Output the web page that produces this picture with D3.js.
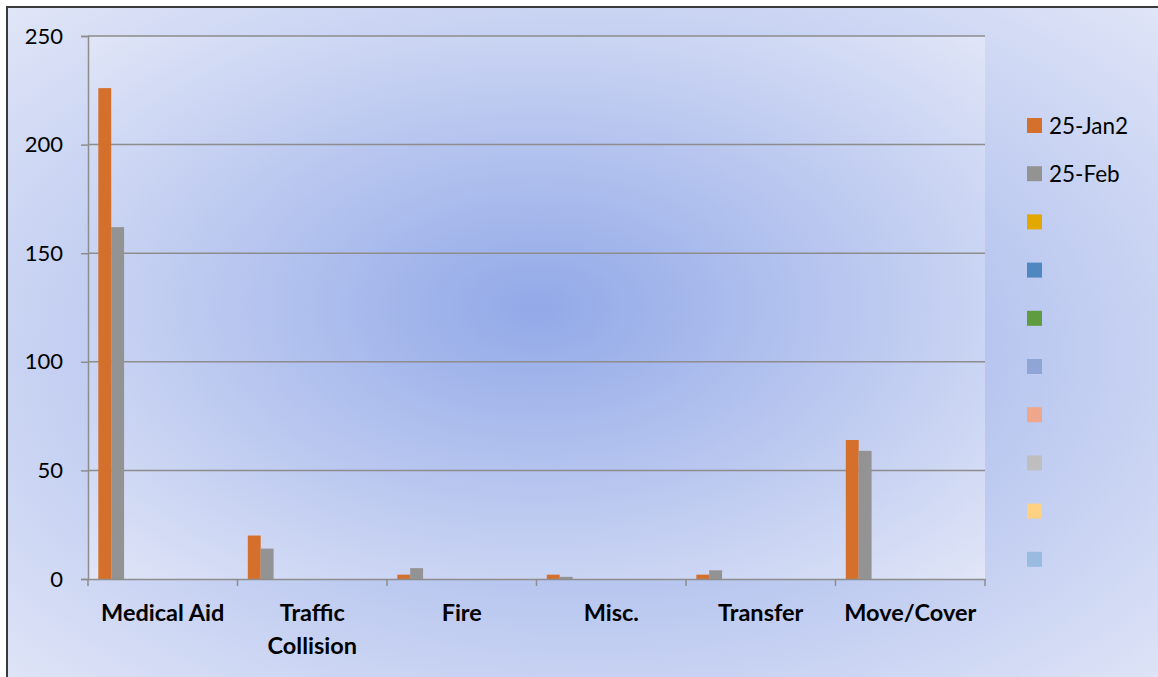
<!DOCTYPE html>
<html>
<head>
<meta charset="utf-8">
<script src="https://cdn.jsdelivr.net/npm/d3@7"></script>
<style>
  html, body { margin: 0; padding: 0; background: #ffffff; }
  svg { display: block; }
  text { font-family: Lato, "Open Sans", sans-serif; fill: #000; }
</style>
</head>
<body>
<svg id="chart" width="1158" height="677"></svg>
<script>
// ---- data ----
const categories = ["Medical Aid", "Traffic Collision", "Fire", "Misc.", "Transfer", "Move/Cover"];
const seriesNames = ["25-Jan2", "25-Feb", "", "", "", "", "", "", "", ""];
const seriesColors = ["#d4702c", "#939393", "#e2a800", "#4f88c0", "#5f9b3f", "#8fa5d6", "#efa78c", "#bebebe", "#ffd183", "#99bbe0"];
const jan2Values = [226, 20, 2, 2, 2, 64];
const febValues = [162, 14, 5, 1, 4, 59];
const emptyValues = [];
const yTicks = [0, 50, 100, 150, 200, 250];

const seriesValues = [jan2Values, febValues, emptyValues, emptyValues, emptyValues,
                      emptyValues, emptyValues, emptyValues, emptyValues, emptyValues];

// ---- layout ----
const W = 1158, H = 677;
const plot = { left: 88, right: 985, top: 36, bottom: 579 };

const svg = d3.select("#chart");
const defs = svg.append("defs");

function radial(id, r) {
  const g = defs.append("radialGradient").attr("id", id)
    .attr("cx", "50%").attr("cy", "50%").attr("r", r);
  g.append("stop").attr("offset", "0%").attr("stop-color", "#92a9e8");
  g.append("stop").attr("offset", "100%").attr("stop-color", "#e0e5f7");
}
radial("chartBg", "70%");
radial("plotBg", "70%");

// chart area background with frame
svg.append("rect").attr("x", 7).attr("y", 7).attr("width", W + 10).attr("height", H + 10)
  .attr("fill", "url(#chartBg)").attr("stroke", "#3a3a3a").attr("stroke-width", 2);

// plot area background
svg.append("rect").attr("x", plot.left).attr("y", plot.top)
  .attr("width", plot.right - plot.left).attr("height", plot.bottom - plot.top)
  .attr("fill", "url(#plotBg)");

// ---- scales ----
const x = d3.scaleBand().domain(categories).range([plot.left, plot.right]).padding(0);
const xs = d3.scaleBand().domain(d3.range(seriesNames.length))
  .range([0, x.bandwidth()]).paddingInner(0).paddingOuter(0.8);
const y = d3.scaleLinear().domain([0, 250]).range([plot.bottom, plot.top]);

const axisColor = "#8d8d8d";

// gridlines
svg.append("g").selectAll("line").data(yTicks.filter(d => d > 0)).join("line")
  .attr("x1", plot.left).attr("x2", plot.right)
  .attr("y1", d => y(d)).attr("y2", d => y(d))
  .attr("stroke", axisColor).attr("stroke-width", 1.5);

// bars
const barG = svg.append("g");
seriesValues.forEach((vals, si) => {
  barG.append("g").selectAll("rect").data(vals.map((v, i) => ({ v, c: categories[i] }))).join("rect")
    .attr("x", d => x(d.c) + xs(si))
    .attr("y", d => y(d.v))
    .attr("width", xs.bandwidth())
    .attr("height", d => y(0) - y(d.v))
    .attr("fill", seriesColors[si]);
});

// y axis
const yAxis = d3.axisLeft(y).tickValues(yTicks).tickSize(7).tickPadding(18).tickFormat(d3.format("d"));
const yg = svg.append("g").attr("transform", `translate(${plot.left},0)`).call(yAxis);
yg.select(".domain").attr("stroke", axisColor).attr("stroke-width", 1.5);
yg.selectAll(".tick line").attr("stroke", axisColor).attr("stroke-width", 1.5);
yg.selectAll(".tick text").attr("font-size", 22).attr("font-family", "Lato, sans-serif").attr("fill", "#000");

// x axis (line + boundary ticks)
const xg = svg.append("g").attr("transform", `translate(0,${plot.bottom})`)
  .call(d3.axisBottom(x).tickSize(0).tickFormat(""));
xg.select(".domain").attr("stroke", axisColor).attr("stroke-width", 1.5);
xg.selectAll(".tick").remove();
const bounds = categories.map(c => x(c)).concat([plot.right]);
xg.selectAll("line.bnd").data(bounds).join("line").attr("class", "bnd")
  .attr("x1", d => d).attr("x2", d => d).attr("y1", 0).attr("y2", 7)
  .attr("stroke", axisColor).attr("stroke-width", 1.5);

// category labels (wrapped like the original)
const labelLines = { "Traffic Collision": ["Traffic", "Collision"] };
const lab = svg.append("g").selectAll("text").data(categories).join("text")
  .attr("x", d => x(d) + x.bandwidth() / 2)
  .attr("y", 621)
  .attr("text-anchor", "middle")
  .attr("font-size", 23.5).attr("font-weight", "bold");
lab.each(function (d) {
  const lines = labelLines[d] || [d];
  const t = d3.select(this);
  lines.forEach((ln, i) => {
    t.append("tspan").attr("x", x(d) + x.bandwidth() / 2).attr("dy", i === 0 ? 0 : 33).text(ln);
  });
});

// legend
const leg = svg.append("g");
const legItems = leg.selectAll("g").data(seriesNames).join("g")
  .attr("transform", (d, i) => `translate(1027, ${118 + i * 48.2})`);
legItems.append("rect").attr("width", 15).attr("height", 15).attr("fill", (d, i) => seriesColors[i]);
legItems.append("text").attr("x", 22).attr("y", 15.5).attr("font-size", 22.5).text(d => d);
</script>
</body>
</html>
